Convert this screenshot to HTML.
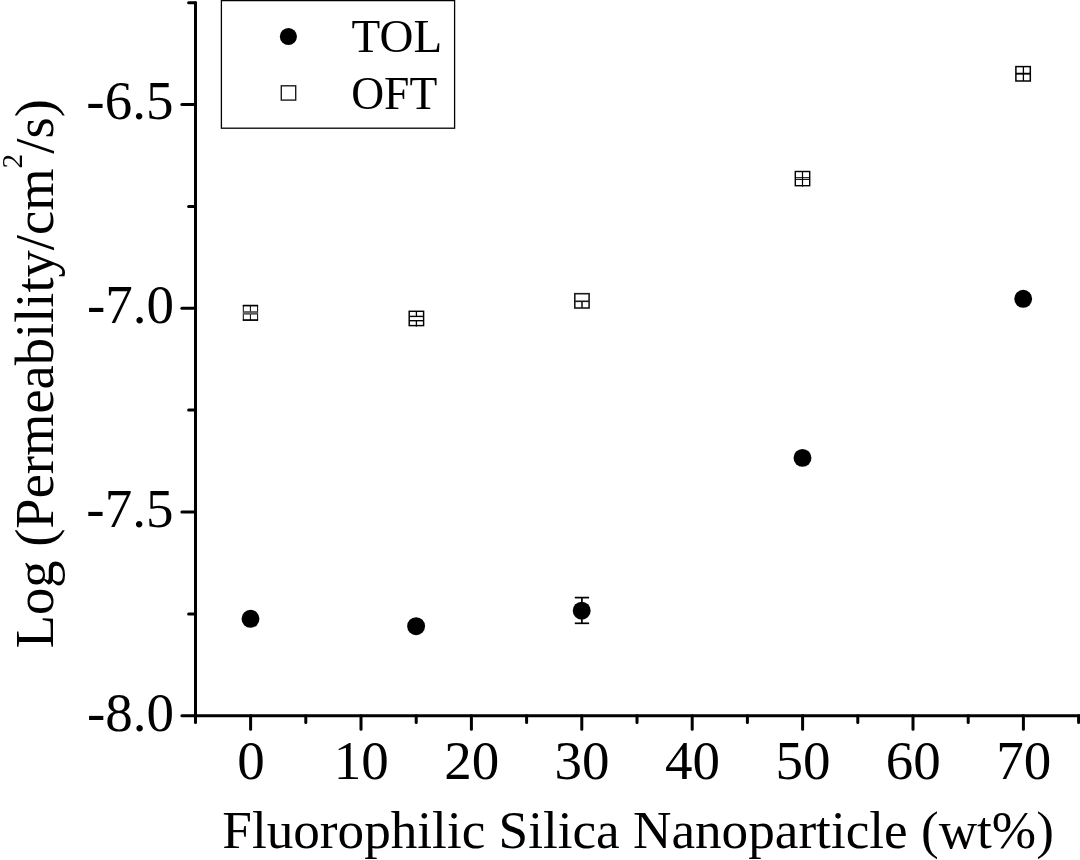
<!DOCTYPE html>
<html>
<head>
<meta charset="utf-8">
<title>Permeability chart</title>
<style>
html,body{margin:0;padding:0;background:#fff;}
body{width:1080px;height:860px;overflow:hidden;}
svg{display:block;}
text{font-family:"Liberation Serif","Times New Roman",serif;fill:#000;}
</style>
</head>
<body>
<svg width="1080" height="860" viewBox="0 0 1080 860">
<rect x="0" y="0" width="1080" height="860" fill="#fff"/>

<!-- axes -->
<g stroke="#000" stroke-width="3" fill="none" stroke-linecap="round">
  <line x1="195.5" y1="2.7" x2="195.5" y2="722.6"/>
  <line x1="181.9" y1="715.7" x2="1081.0" y2="715.7"/>
  <line x1="181.9" y1="104.6" x2="195.5" y2="104.6"/>
  <line x1="181.9" y1="308.3" x2="195.5" y2="308.3"/>
  <line x1="181.9" y1="512.0" x2="195.5" y2="512.0"/>
  <line x1="188.6" y1="2.7" x2="195.5" y2="2.7"/>
  <line x1="188.6" y1="206.4" x2="195.5" y2="206.4"/>
  <line x1="188.6" y1="410.1" x2="195.5" y2="410.1"/>
  <line x1="188.6" y1="613.9" x2="195.5" y2="613.9"/>
  <line x1="250.6" y1="715.7" x2="250.6" y2="729.3"/>
  <line x1="361.0" y1="715.7" x2="361.0" y2="729.3"/>
  <line x1="471.4" y1="715.7" x2="471.4" y2="729.3"/>
  <line x1="581.8" y1="715.7" x2="581.8" y2="729.3"/>
  <line x1="692.2" y1="715.7" x2="692.2" y2="729.3"/>
  <line x1="802.6" y1="715.7" x2="802.6" y2="729.3"/>
  <line x1="913.0" y1="715.7" x2="913.0" y2="729.3"/>
  <line x1="1023.4" y1="715.7" x2="1023.4" y2="729.3"/>
  <line x1="305.8" y1="715.7" x2="305.8" y2="722.6"/>
  <line x1="416.2" y1="715.7" x2="416.2" y2="722.6"/>
  <line x1="526.6" y1="715.7" x2="526.6" y2="722.6"/>
  <line x1="637.0" y1="715.7" x2="637.0" y2="722.6"/>
  <line x1="747.4" y1="715.7" x2="747.4" y2="722.6"/>
  <line x1="857.8" y1="715.7" x2="857.8" y2="722.6"/>
  <line x1="968.2" y1="715.7" x2="968.2" y2="722.6"/>
  <line x1="1078.6" y1="715.7" x2="1078.6" y2="722.6"/>
</g>

<!-- y tick labels -->
<g font-size="55" text-anchor="end">
  <text x="173.4" y="119.4">-6.5</text>
  <text x="174.0" y="323.2">-7.0</text>
  <text x="173.4" y="527.0">-7.5</text>
  <text x="174.0" y="730.8">-8.0</text>
</g>

<!-- x tick labels -->
<g font-size="55" text-anchor="middle">
  <text x="250.9" y="779.0">0</text>
  <text x="361.3" y="779.0">10</text>
  <text x="471.7" y="779.0">20</text>
  <text x="582.1" y="779.0">30</text>
  <text x="692.5" y="779.0">40</text>
  <text x="802.9" y="779.0">50</text>
  <text x="913.3" y="779.0">60</text>
  <text x="1023.7" y="779.0">70</text>
</g>

<!-- axis titles -->
<text id="xt" x="222.3" y="848" font-size="53.2">Fluorophilic Silica Nanoparticle (wt%)</text>
<text id="yt" transform="translate(53.2,648.2) rotate(-90)" font-size="54.5">Log (Permeability/cm<tspan font-size="29.5" dy="-31.5">2</tspan><tspan dy="31.5">/s)</tspan></text>

<!-- legend -->
<rect x="221.4" y="0.6" width="233.2" height="127.6" fill="#fff" stroke="#000" stroke-width="1.3"/>
<circle cx="288.4" cy="36.5" r="8.55" fill="#000"/>
<rect x="281.3" y="85.8" width="14.4" height="14.3" fill="#fff" stroke="#1c1c1c" stroke-width="1.4"/>
<text x="351.6" y="52" font-size="47">TOL</text>
<text x="351.2" y="108.6" font-size="47" textLength="86" lengthAdjust="spacingAndGlyphs">OFT</text>

<!-- TOL data -->
<g fill="#000">
  <circle cx="250.5" cy="618.8" r="8.95"/>
  <circle cx="416.1" cy="626.2" r="8.95"/>
  <circle cx="581.7" cy="610.7" r="8.95"/>
  <circle cx="802.5" cy="457.9" r="8.95"/>
  <circle cx="1023.2" cy="298.8" r="8.95"/>
</g>
<g stroke="#000" stroke-width="1.7" fill="none">
  <line x1="581.9" y1="597.6" x2="581.9" y2="623.3"/>
  <line x1="574.8" y1="597.6" x2="589.1" y2="597.6"/>
  <line x1="574.8" y1="623.3" x2="589.1" y2="623.3"/>
</g>

<!-- OFT data -->
<g stroke="#000" fill="#fff">
  <rect x="243.3" y="305.5" width="14.3" height="14.6" stroke-width="1.0"/>
  <rect x="409.2" y="311.3" width="14.4" height="14.3" stroke-width="1.45"/>
  <rect x="574.8" y="293.7" width="14.3" height="14.3" stroke-width="1.6" stroke="#1a1a1a"/>
  <rect x="795.3" y="171.5" width="14.4" height="14.2" stroke-width="1.4"/>
  <rect x="1015.9" y="66.6" width="14.4" height="14.4" stroke-width="1.5"/>
</g>
<g stroke="#000" stroke-width="1.2" fill="none">
  <!-- 0 -->
  <line x1="242.8" y1="305.6" x2="258.1" y2="305.6" stroke-width="1.7"/>
  <line x1="242.8" y1="320.1" x2="258.1" y2="320.1" stroke-width="1.5"/>
  <line x1="250.4" y1="305.4" x2="250.4" y2="320.2" stroke-width="1.0"/>
  <line x1="243.2" y1="312.9" x2="257.6" y2="312.9" stroke="#6e6e6e" stroke-width="2.9"/>
  <line x1="243.2" y1="311.7" x2="257.6" y2="311.7" stroke="#333" stroke-width="0.7"/>
  <line x1="243.2" y1="314.1" x2="257.6" y2="314.1" stroke="#333" stroke-width="0.7"/>
  <!-- 15 -->
  <line x1="416.4" y1="311.3" x2="416.4" y2="316.4" stroke-width="1.3"/>
  <line x1="416.4" y1="320.7" x2="416.4" y2="326.6" stroke-width="1.3"/>
  <line x1="409.2" y1="316.4" x2="423.6" y2="316.4" stroke-width="1.4"/>
  <line x1="409.2" y1="320.7" x2="423.6" y2="320.7" stroke-width="1.4"/>
  <!-- 30 -->
  <line x1="582.0" y1="301.3" x2="582.0" y2="308" stroke-width="1.6" stroke="#1a1a1a"/>
  <line x1="574.8" y1="301.3" x2="589.1" y2="301.3" stroke-width="1.6" stroke="#1a1a1a"/>
  <!-- 50 -->
  <line x1="802.5" y1="171.5" x2="802.5" y2="186.6"/>
  <line x1="795.3" y1="177.7" x2="809.7" y2="177.7" stroke-width="1.0"/>
  <line x1="795.3" y1="179.4" x2="809.7" y2="179.4" stroke-width="1.0"/>
  <!-- 70 -->
  <line x1="1023.4" y1="66.6" x2="1023.4" y2="81" stroke-width="1.3"/>
  <line x1="1015.9" y1="73.7" x2="1030.3" y2="73.7" stroke-width="1.9"/>
</g>
</svg>
</body>
</html>
